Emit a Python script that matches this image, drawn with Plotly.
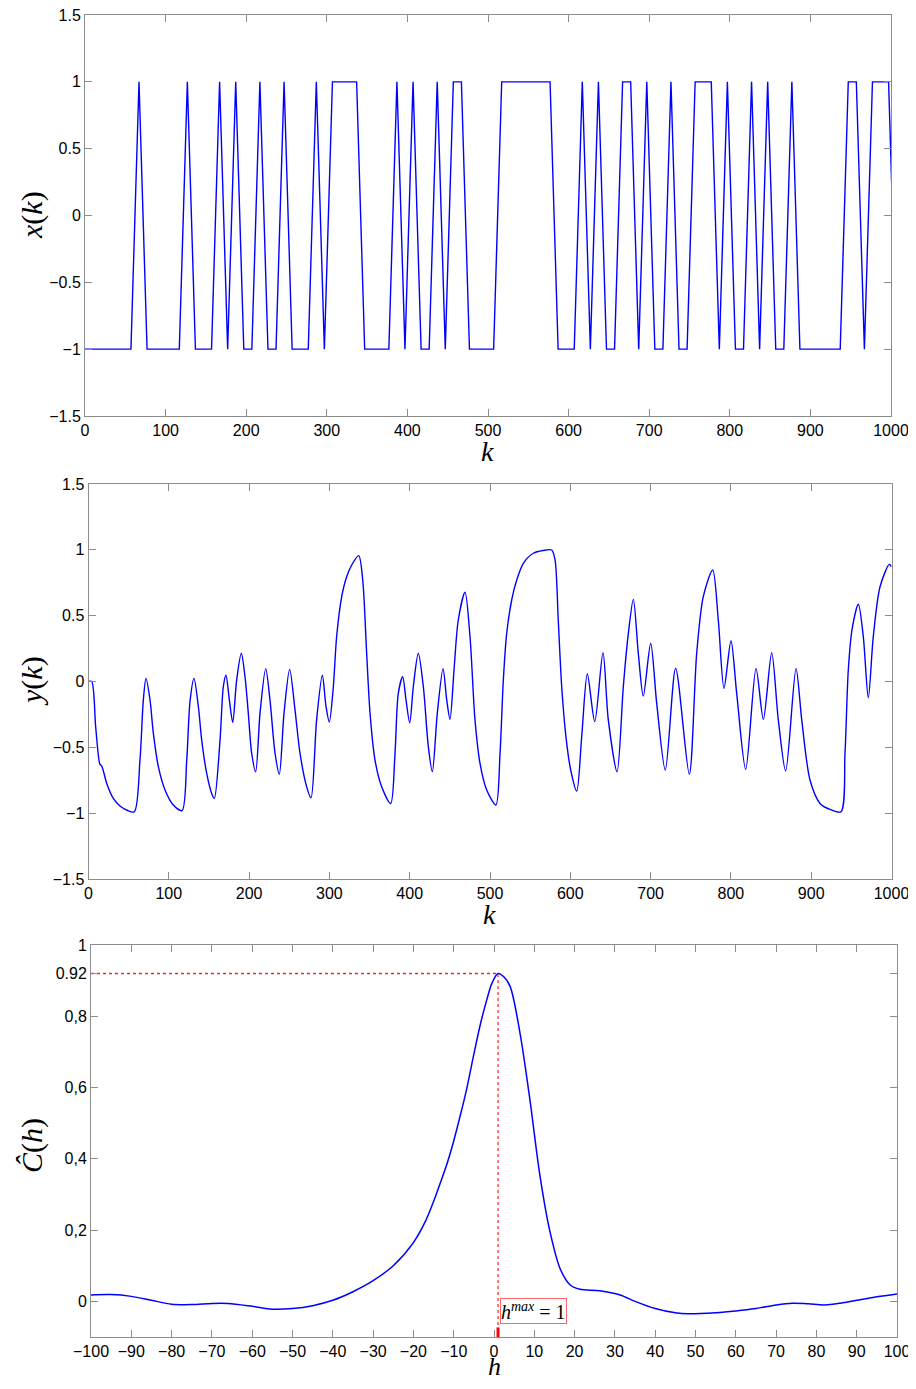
import plotly.graph_objects as go

# ---------------- data ----------------
# x(k): binary input, one value every 10 samples (knots at k = 7, 17, ..., 1007)
x_knot_start = 7
x_knot_step = 10
x_bits = [-1, -1, -1, -1, -1, -1, 1, -1, -1, -1,
          -1, -1, 1, -1, -1, -1, 1, -1, 1, -1,
          -1, 1, -1, -1, 1, -1, -1, -1, 1, -1,
          1, 1, 1, 1, -1, -1, -1, -1, 1, -1,
          1, -1, -1, 1, -1, 1, 1, -1, -1, -1,
          -1, 1, 1, 1, 1, 1, 1, 1, -1, -1,
          -1, 1, -1, 1, -1, -1, 1, 1, -1, 1,
          -1, -1, 1, -1, -1, 1, 1, 1, -1, 1,
          -1, -1, 1, -1, 1, -1, -1, 1, -1, -1,
          -1, -1, -1, -1, 1, 1, -1, 1, 1, 1,
          -1]
x_initial = -1

# y(k): output
y_k = [0, 4, 9, 14.3, 16.4, 22.7, 30.9, 39.2, 47.6, 57,
       64.1, 68.3, 71.6, 76.6, 80.7, 87, 95.3, 105.6, 116.5,
       122.3, 126.4, 131.4, 136.8, 141, 147.2, 153.4, 156.7,
       163.8, 167.9, 171.2, 175.4, 179.6, 184.5, 190.3, 194.9, 199, 203.2, 208.2,
       213.6, 220.7, 226, 232.3, 237.6, 243.5, 250.5, 257.2, 263.4, 271.7, 277.1,
       284.1, 291.2, 295.8, 299.9, 304.9, 309, 315.3, 321.5, 327.8, 336.5,
       341.5, 346.4, 350.6, 356.8, 365.1, 376.3,
       381.7, 385.8, 391.3, 395.4, 400, 404.5, 410.7, 417, 423.2, 428.2,
       434.4, 441.5, 446.1, 450.2, 455.2, 460.5, 468.9, 475.1, 481.3, 487.5, 495.9, 507.3,
       512.5, 516.6, 520.8, 527, 533.3, 541.5, 554, 566, 576.8,
       581, 585, 589.3, 594.6, 600.5, 608,
       614.2, 621.2, 630.4, 640.7, 647.3, 658.2, 666, 672, 678.5, 684.7, 690.9,
       700.1, 707.6, 718.3, 731.2, 748.2,
       757.4, 765.6, 777.3, 784.3, 791.4, 800.1, 807.2, 818.4, 831.3, 840.4,
       850.8, 859, 868.2, 881.1, 888.2, 898.5, 911, 923.4, 937.1,
       942.1, 946.2, 951, 958.7, 964.9, 971.1, 977.3, 985.7, 997.3, 1000]
y_val = [0, 0, -0.35, -0.63, -0.64, -0.774, -0.888, -0.946, -0.976, -0.99,
         -0.597, -0.14, 0.024, -0.14, -0.39, -0.647, -0.824, -0.938, -0.98,
         -0.6, -0.153, 0.024, -0.19, -0.445, -0.698, -0.85, -0.888,
         -0.445, -0.04, 0.047, -0.14, -0.31, 0.01, 0.214, 0.036, -0.24, -0.545, -0.685,
         -0.24, 0.098, -0.14, -0.545, -0.705, -0.24, 0.092, -0.217, -0.545, -0.8, -0.883,
         -0.29, 0.047, -0.19, -0.308, -0.04, 0.34, 0.644, 0.796, 0.885, 0.956,
         0.771, 0.214, -0.24, -0.597, -0.8, -0.927,
         -0.545, -0.09, 0.036, -0.14, -0.313, -0.04, 0.214, -0.04, -0.495, -0.685,
         -0.24, 0.098, -0.14, -0.288, 0.088, 0.467, 0.678, 0.34, -0.29, -0.62, -0.824, -0.938,
         -0.545, 0.011, 0.366, 0.619, 0.771, 0.898, 0.974, 0.995, 0.999,
         0.923, 0.467, -0.04, -0.42, -0.672, -0.832,
         -0.42, 0.059, -0.305, 0.219, -0.29, -0.685, -0.04, 0.35, 0.624, 0.214, -0.11,
         0.29, -0.166, -0.672, 0.1, -0.705,
         0.214, 0.644, 0.847, 0.467, -0.052, 0.31, -0.09, -0.667, 0.1, -0.288,
         0.219, -0.29, -0.68, 0.1, -0.29, -0.748, -0.926, -0.971, -0.989,
         -0.545, 0.087, 0.4, 0.587, 0.34, -0.123, 0.34, 0.72, 0.89, 0.87]

# C(h): cross-correlation estimate
c_h = [-100, -95, -90, -85, -80, -75, -70, -66, -60, -55, -50, -45, -40, -35, -30,
       -25, -20, -17, -15, -13.4, -11.7, -10.1, -8.4, -6.8, -5.1, -3.5, -1.8, -0.5, 1,
       2.5, 4, 6.45, 8.9, 11.4, 13.9, 16.4, 18.9, 21.3, 26.3, 31.3, 35, 40, 45, 48,
       55, 60, 65, 70, 74, 78, 82, 86, 90, 95, 100]
c_val = [0.018, 0.019, 0.014, 0.003, -0.008, -0.009, -0.006, -0.006, -0.014, -0.022,
         -0.02, -0.012, 0.003, 0.027, 0.058, 0.1, 0.165, 0.225, 0.28, 0.33, 0.385,
         0.446, 0.52, 0.595, 0.688, 0.772, 0.846, 0.893, 0.92, 0.91, 0.884, 0.753,
         0.567, 0.353, 0.195, 0.092, 0.046, 0.034, 0.03, 0.018, 0.0, -0.02, -0.032,
         -0.035, -0.032, -0.027, -0.02, -0.01, -0.005, -0.007, -0.01, -0.005, 0.003,
         0.013, 0.021]
h_max = 1
c_max = 0.92

# tick labels
x_ticks_k = list(range(0, 1001, 100))
y_ticks_xy = [-1.5, -1, -0.5, 0, 0.5, 1, 1.5]
h_ticks = list(range(-100, 101, 10))
c_tickvals = [0, 0.2, 0.4, 0.6, 0.8, 0.92, 1]
c_ticktext = ["0", "0,2", "0,4", "0,6", "0,8", "0.92", "1"]

# ---------------- figure ----------------
PAGE_W, PAGE_H = 916, 1389
OFF = 8  # page body margin
W, H = PAGE_W - 2 * OFF, PAGE_H - 2 * OFF
BLUE = "#0000ff"
RED_DOT = "#ff2020"

x_knots_k = [0] + [x_knot_start + i * x_knot_step for i in range(len(x_bits))]
x_knots_v = [x_initial] + x_bits

fig = go.Figure()
fig.add_trace(go.Scatter(x=x_knots_k, y=x_knots_v, mode="lines",
                         line=dict(color=BLUE, width=1.4), xaxis="x", yaxis="y",
                         showlegend=False))
fig.add_trace(go.Scatter(x=y_k, y=y_val, mode="lines",
                         line=dict(color=BLUE, width=1.4, shape="spline", smoothing=0.8),
                         xaxis="x2", yaxis="y2", showlegend=False))
fig.add_trace(go.Scatter(x=c_h, y=c_val, mode="lines",
                         line=dict(color=BLUE, width=1.5, shape="spline", smoothing=0.9),
                         xaxis="x3", yaxis="y3", showlegend=False))
# red dotted guides to the maximum
fig.add_trace(go.Scatter(x=[-100, h_max], y=[c_max, c_max], mode="lines",
                         line=dict(color=RED_DOT, width=1.3, dash="dot"),
                         xaxis="x3", yaxis="y3", showlegend=False))
fig.add_trace(go.Scatter(x=[h_max, h_max], y=[-0.1, c_max], mode="lines",
                         line=dict(color=RED_DOT, width=1.2, dash="dot"),
                         xaxis="x3", yaxis="y3", showlegend=False))
fig.add_trace(go.Scatter(x=[h_max, h_max], y=[-0.1, -0.073], mode="lines",
                         line=dict(color="red", width=3),
                         xaxis="x3", yaxis="y3", showlegend=False))


def px(v):
    return (v - OFF) / W


def py(v):
    return 1 - (v - OFF) / H


axis_common = dict(showline=True, linecolor="#8c8c8c", linewidth=1, mirror="ticks",
                   ticks="inside", ticklen=7, tickcolor="#8c8c8c", tickwidth=1,
                   showgrid=False, zeroline=False, automargin=False,
                   ticklabeloverflow="allow",
                   tickfont=dict(family="Liberation Sans, Arial, sans-serif", size=16,
                                 color="black"))

fig.update_layout(
    width=W, height=H,
    margin=dict(l=0, r=0, t=0, b=0),
    paper_bgcolor="white", plot_bgcolor="white",
    xaxis=dict(domain=[px(85), px(891)], range=[0, 1000], tickvals=x_ticks_k,
               anchor="y", **axis_common),
    yaxis=dict(domain=[py(416), py(15)], range=[-1.5, 1.5], tickvals=y_ticks_xy,
               anchor="x", **axis_common),
    xaxis2=dict(domain=[px(88.5), px(891.5)], range=[0, 1000], tickvals=x_ticks_k,
                anchor="y2", **axis_common),
    yaxis2=dict(domain=[py(879), py(484)], range=[-1.5, 1.5], tickvals=y_ticks_xy,
                anchor="x2", **axis_common),
    xaxis3=dict(domain=[px(91), px(897)], range=[-100, 100], tickvals=h_ticks,
                anchor="y3", **axis_common),
    yaxis3=dict(domain=[py(1337), py(945)], range=[-0.1, 1], tickvals=c_tickvals,
                ticktext=c_ticktext, anchor="x3", **axis_common),
)

serif = "Liberation Serif, Times New Roman, serif"
labels = [
    ("<i>x</i>(<i>k</i>)", 32, 215, -90, 30),
    ("<i>k</i>", 487, 452, 0, 28),
    ("<i>y</i>(<i>k</i>)", 32, 681, -90, 30),
    ("<i>k</i>", 489, 914, 0, 28),
    ("<i>Ĉ</i>(<i>h</i>)", 32, 1146, -90, 30),
    ("<i>h</i>", 494, 1366, 0, 26),
]
for text, xx, yy, ang, fs in labels:
    fig.add_annotation(text=text, x=px(xx), y=py(yy), xref="paper", yref="paper",
                       showarrow=False, textangle=ang, xanchor="center", yanchor="middle",
                       font=dict(family=serif, size=fs, color="black"))

fig.add_annotation(text="<i>h</i><sup><i>max</i></sup> = 1", x=h_max + 0.6, y=-0.026,
                   xref="x3", yref="y3", xanchor="left", yanchor="middle",
                   showarrow=False, bordercolor="rgba(255,0,0,0.6)", borderwidth=1,
                   borderpad=0, bgcolor="white",
                   font=dict(family=serif, size=20, color="black"))

fig.write_html("out.html")
